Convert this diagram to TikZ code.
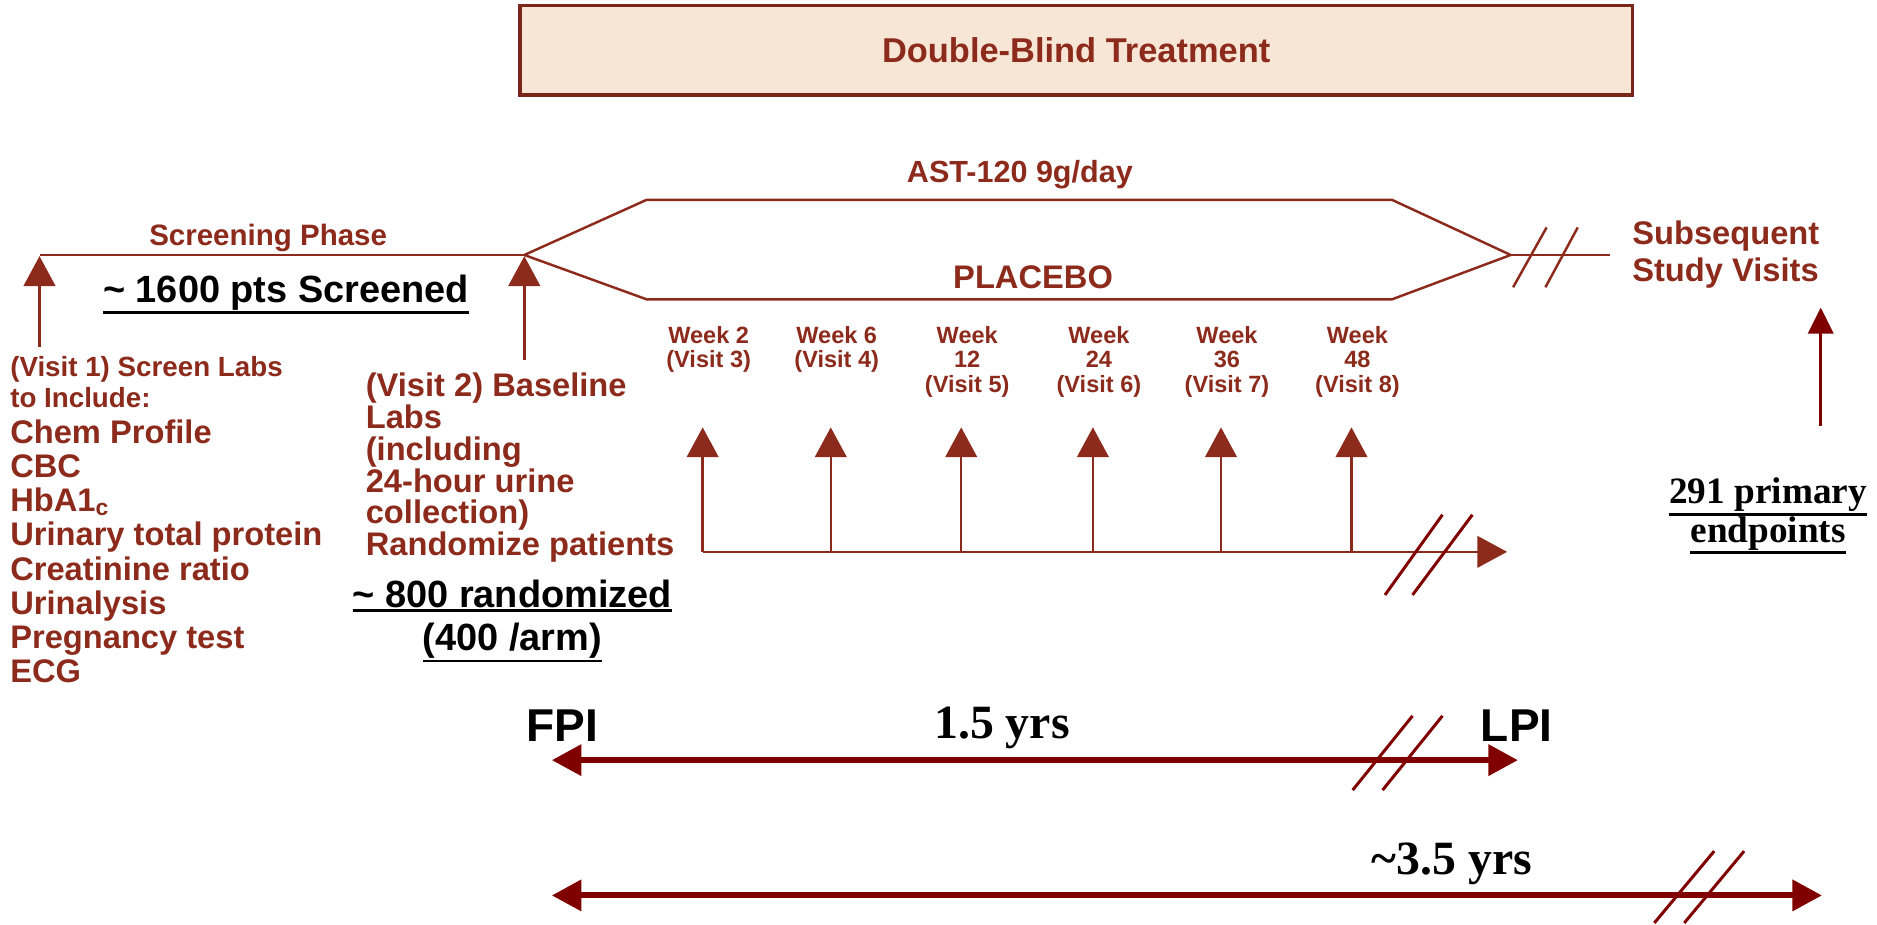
\documentclass[tikz,border=0pt]{standalone}
\usepackage{fontspec}
\setmainfont{Liberation Serif}
\setsansfont{Liberation Sans}
\usetikzlibrary{arrows.meta}
\definecolor{trtc}{HTML}{8C2A1B}
\definecolor{boxc}{HTML}{F7E5D6}
\definecolor{edgec}{HTML}{7A2618}
\definecolor{spanc}{HTML}{800000}
\newcommand{\fs}[2]{\fontsize{#1}{#2}\selectfont}
\newcommand{\ulbar}[1]{\setbox0=\hbox{#1}\leavevmode\rlap{\rule[\dimexpr-\dp0-1.1pt\relax]{\wd0}{0.75pt}}\box0}

\begin{document}
\begin{tikzpicture}[x=0.011971cm, y=-0.011971cm,
  lbl/.style={text=trtc, inner sep=0pt},
  blk/.style={text=black, inner sep=0pt},
  tl/.style={draw=trtc, line width=0.7pt},
  up/.style={draw=trtc, line width=0.7pt, -{Triangle[length=8.5pt,width=9pt]}},
  span/.style={draw=spanc, line width=1.7pt, {Triangle[length=8.4pt,width=8.6pt]}-{Triangle[length=8.4pt,width=8.6pt]}},
  cut/.style={draw=spanc, line width=0.85pt}]
  \useasboundingbox (0,0) rectangle (1568,772);

  % double-blind header
  \node[lbl, draw=edgec, line width=1pt, fill=boxc, minimum width=11.13cm, minimum height=0.9cm,
    font=\sffamily\bfseries\fs{9.8}{11}] (dbt) at (899,42) {Double-Blind Treatment};

  % screening phase
  \coordinate (scr0) at (33,213);
  \coordinate (rand) at (438,213);
  \coordinate (v1) at (33,290);
  \coordinate (v2) at (438,301);
  \draw[tl] (scr0) -- (rand);
  \draw[up] (v1) -- (33,214);
  \draw[up] (v2) -- (438,214);
  \node[lbl, font=\sffamily\bfseries\fs{8.4}{10}] (scrph) at (224,199) {Screening Phase};
  \node[blk, font=\sffamily\bfseries\fs{10.8}{12}] (scrn) at (239,246) {\ulbar{\textasciitilde{} 1600 pts Screened}};

  % visit 1 labs
  \node[lbl, font=\sffamily\bfseries\fs{7.9}{8.9}, align=left, anchor=north west] (v1txt) at (8,297)
    {(Visit 1) Screen Labs\\to Include:};
  \node[lbl, font=\sffamily\bfseries\fs{9.3}{9.74}, align=left, anchor=north west] (v1labs) at (8,350)
    {Chem Profile\\CBC\\HbA1\textsubscript{c}\\Urinary total protein\\Creatinine ratio\\Urinalysis\\Pregnancy test\\ECG};

  % visit 2 baseline
  \node[lbl, font=\sffamily\bfseries\fs{9.3}{9.06}, align=left, anchor=north west] (v2txt) at (305,311)
    {(Visit 2) Baseline\\Labs\\(including\\24-hour urine\\collection)\\Randomize patients};
  \node[blk, font=\sffamily\bfseries\fs{10.8}{12.3}, align=center] (rnd) at (428,519)
    {\ulbar{\textasciitilde{} 800 randomized}\\\ulbar{(400 /arm)}};

  % treatment arms
  \coordinate (drugL) at (540,167);
  \coordinate (drugR) at (1163,167);
  \coordinate (placL) at (540,250);
  \coordinate (placR) at (1163,250);
  \coordinate (endtrt) at (1262,213);
  \coordinate (subs) at (1345,213);
  \draw[tl] (rand) -- (drugL) -- (drugR) -- (endtrt) -- (placR) -- (placL) -- cycle;
  \draw[tl] (endtrt) -- (subs);
  \draw[tl] (1264,240) -- (1292,190);
  \draw[tl] (1291,240) -- (1318,190);
  \node[lbl, font=\sffamily\bfseries\fs{8.7}{10}] (ast) at (852,146) {AST-120 9g/day};
  \node[lbl, font=\sffamily\bfseries\fs{9.3}{10}] (plc) at (863,232) {PLACEBO};
  \node[lbl, font=\sffamily\bfseries\fs{9.3}{10.5}, align=left, anchor=west] (subv) at (1363,213)
    {Subsequent\\Study Visits};

  % visit weeks
  \foreach \x/\txt [count=\i] in {587/{Week 2\\(Visit 3)}, 694/{Week 6\\(Visit 4)},
      803/{Week\\12\\(Visit 5)}, 913/{Week\\24\\(Visit 6)}, 1020/{Week\\36\\(Visit 7)}, 1129/{Week\\48\\(Visit 8)}} {
    \coordinate (wk\i) at (\x,461);
    \coordinate (wt\i) at (\x,357);
    \draw[up] (wk\i) -- (wt\i);
    \node[lbl, font=\sffamily\bfseries\fs{6.7}{7}, align=center, anchor=north] (wl\i) at (\x+5,272) {\txt};
  }
  \coordinate (wkend) at (1259,461);
  \draw[up] (wk1) -- (wkend);
  \draw[cut] (1157,497) -- (1205,430);
  \draw[cut] (1180,497) -- (1230,430);

  % primary endpoints
  \coordinate (epb) at (1521,356);
  \coordinate (ept) at (1521,257);
  \draw[draw=spanc, line width=0.9pt, -{Triangle[length=7.4pt,width=7.2pt]}] (epb) -- (ept);
  \node[blk, font=\rmfamily\bfseries\fs{10.6}{10.9}, align=center] (prim) at (1477,431)
    {\ulbar{291 primary}\\\ulbar{endpoints}};

  % enrolment span
  \node[blk, font=\sffamily\bfseries\fs{13.1}{14}] (fpi) at (470,606) {FPI};
  \node[blk, font=\sffamily\bfseries\fs{13.1}{14}] (lpi) at (1267,606) {LPI};
  \node[blk, font=\rmfamily\bfseries\fs{13.6}{15}] (dur1) at (837,608) {1.5 yrs};
  \coordinate (fpiA) at (461,635);
  \coordinate (lpiA) at (1268,635);
  \draw[span] (fpiA) -- (lpiA);
  \draw[cut] (1130,660) -- (1180,598);
  \draw[cut] (1155,660) -- (1205,598);

  % study span
  \node[blk, font=\rmfamily\bfseries\fs{13.6}{15}] (dur2) at (1213,722) {\textasciitilde3.5 yrs};
  \coordinate (stA) at (461,748);
  \coordinate (stB) at (1522,748);
  \draw[span] (stA) -- (stB);
  \draw[cut] (1382,771) -- (1432,711);
  \draw[cut] (1407,771) -- (1457,711);
\end{tikzpicture}
\end{document}
